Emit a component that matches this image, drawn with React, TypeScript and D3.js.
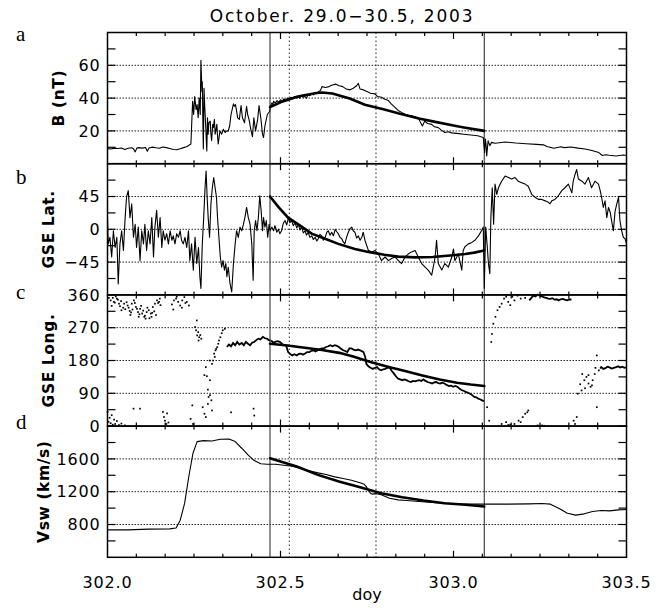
import React from "react";
import * as d3 from "d3";

// ---------------------- data
const title = "October. 29.0\u221230.5, 2003";
const dayTicks = [302.0, 302.5, 303.0, 303.5];
const cloudBounds = [302.4697, 303.089];
const dottedMarks = [302.5255, 302.776];

const bTicks = [20, 40, 60];
const latTicks = [-45, 0, 45];
const lonTicks = [0, 90, 180, 270, 360];
const vswTicks = [800, 1200, 1600];

// B (nT)
const bField: [number, number][] = [
  [302.0, 9.2], [302.01, 9.0], [302.02, 9.5], [302.03, 9.3], [302.04, 9.6], [302.05, 8.6], [302.06, 9.4],
  [302.07, 9.7], [302.075, 9.1], [302.08, 7.2], [302.085, 9.6], [302.09, 9.8], [302.1, 9.5], [302.11, 9.9],
  [302.115, 7.6], [302.12, 9.6], [302.13, 10.1], [302.14, 9.7], [302.15, 9.4], [302.16, 10.2], [302.17, 9.8],
  [302.18, 9.3], [302.19, 8.7], [302.2, 8.5], [302.21, 9.1], [302.22, 9.8], [302.23, 10.5], [302.241, 12.0],
  [302.246, 38], [302.249, 30], [302.252, 41], [302.256, 33], [302.259, 36], [302.262, 28], [302.265, 40],
  [302.268, 30], [302.27, 63], [302.273, 44], [302.274, 50], [302.276, 20], [302.277, 9], [302.279, 46],
  [302.281, 35], [302.284, 22], [302.287, 7.8], [302.289, 28], [302.291, 18], [302.293, 25], [302.297, 26],
  [302.299, 18], [302.301, 14], [302.304, 24], [302.306, 22], [302.309, 27], [302.311, 18], [302.313, 20],
  [302.316, 24], [302.318, 17], [302.32, 12], [302.325, 20], [302.33, 18], [302.335, 21], [302.34, 19],
  [302.345, 20], [302.349, 20], [302.353, 23], [302.357, 30], [302.364, 36.5], [302.367, 35], [302.37, 36],
  [302.374, 31], [302.376, 28], [302.381, 27], [302.386, 35.5], [302.39, 28], [302.396, 25], [302.399, 30],
  [302.402, 35], [302.405, 30], [302.409, 27], [302.415, 20], [302.419, 16.5], [302.423, 28], [302.428, 20],
  [302.434, 27], [302.438, 35.4], [302.443, 28], [302.448, 18], [302.451, 16], [302.455, 23], [302.462, 30],
  [302.469, 32], [302.471, 35], [302.475, 37], [302.478, 36], [302.48, 38], [302.485, 37], [302.49, 38.5],
  [302.495, 37.5], [302.5, 39], [302.505, 38], [302.51, 39.5], [302.515, 38.5], [302.52, 40], [302.525, 39],
  [302.53, 40.5], [302.535, 39.5], [302.54, 41], [302.545, 40], [302.55, 41], [302.555, 40], [302.56, 41.5],
  [302.565, 40.5], [302.57, 41], [302.575, 40], [302.58, 42], [302.585, 41.5], [302.59, 42.5], [302.595, 42],
  [302.6, 43.5], [302.605, 43], [302.61, 44], [302.615, 44.5], [302.62, 47], [302.63, 46.5], [302.64, 47],
  [302.65, 48], [302.66, 48.5], [302.67, 47.5], [302.68, 47], [302.69, 45.5], [302.7, 45], [302.71, 46],
  [302.72, 47.5], [302.725, 49], [302.73, 45.5], [302.74, 45], [302.75, 44], [302.76, 43], [302.773, 42.6],
  [302.78, 41], [302.792, 40.5], [302.8, 39.5], [302.812, 38.5], [302.82, 36.5], [302.831, 34.4],
  [302.84, 32.5], [302.85, 31.3], [302.86, 30.2], [302.87, 29.5], [302.879, 29.2], [302.89, 28.4],
  [302.898, 27.8], [302.905, 25], [302.91, 23], [302.917, 26], [302.925, 24.5], [302.937, 24], [302.945, 22.5],
  [302.956, 22], [302.965, 20.5], [302.975, 19], [302.985, 19.5], [302.995, 18.8], [303.01, 18.5],
  [303.03, 18.0], [303.05, 17.5], [303.07, 17.0], [303.086, 16], [303.09, 6.7], [303.092, 15], [303.094, 12],
  [303.096, 4.7], [303.1, 14], [303.105, 11], [303.11, 13], [303.12, 12.5], [303.15, 13.2], [303.18, 12.6],
  [303.21, 12.2], [303.24, 11.8], [303.26, 11.5], [303.27, 10.5], [303.29, 9.4], [303.31, 10.3],
  [303.32, 9.8], [303.34, 10.2], [303.36, 9.5], [303.38, 9.0], [303.4, 8.0], [303.42, 6.8], [303.43, 5.0],
  [303.44, 5.5], [303.45, 5.2], [303.47, 4.7], [303.49, 5.3], [303.5, 5.0],
];
const bFit: [number, number][] = [
  [302.4697, 34.5], [302.5, 37.5], [302.55, 41], [302.6, 43], [302.62, 43.4], [302.65, 42.8], [302.7, 39.8],
  [302.744, 36], [302.8, 33], [302.84, 30.7], [302.9, 27.6], [302.94, 25.8], [303.0, 23.3], [303.03, 22.1],
  [303.089, 20.0],
];

// GSE latitude (deg)
const latData: [number, number][] = [
  [302.0, 16], [302.002, -20], [302.007, -11], [302.012, -38], [302.017, -2], [302.022, -25], [302.027, -11],
  [302.031, -75], [302.036, -20], [302.041, -2], [302.046, -29], [302.051, 16], [302.055, 44], [302.06, 53],
  [302.065, 16], [302.07, 35], [302.075, -11], [302.08, 7], [302.084, -25], [302.089, 3], [302.094, -43],
  [302.099, -2], [302.104, -20], [302.108, 7], [302.113, -29], [302.118, -2], [302.123, -20], [302.128, 16],
  [302.133, -38], [302.137, 3], [302.142, 26], [302.147, -11], [302.152, 16], [302.157, -25], [302.161, -2],
  [302.166, -15], [302.171, -6], [302.176, -20], [302.181, -2], [302.186, -15], [302.19, -9], [302.195, -20],
  [302.2, -6], [302.205, -11], [302.21, -2], [302.214, -15], [302.219, -20], [302.224, -11], [302.229, -25],
  [302.234, -2], [302.238, -43], [302.243, -20], [302.248, -56], [302.253, -11], [302.258, -47],
  [302.263, -25], [302.267, -65], [302.27, -81], [302.274, -20], [302.278, 16], [302.282, 57], [302.285, 80],
  [302.288, 44], [302.291, 16], [302.295, -11], [302.299, 35], [302.303, 57], [302.307, 71], [302.311, 57],
  [302.315, 44], [302.318, 16], [302.322, -11], [302.326, -38], [302.33, -52], [302.334, -43], [302.338, -56],
  [302.342, -47], [302.345, -65], [302.349, -52], [302.354, -74], [302.359, -86], [302.364, -47],
  [302.369, -20], [302.373, -2], [302.378, -11], [302.383, 3], [302.388, -2], [302.393, 7], [302.397, 16],
  [302.402, 30], [302.407, 16], [302.412, 7], [302.417, -20], [302.421, -70], [302.424, -2], [302.428, 12],
  [302.432, -2], [302.436, 16], [302.44, 46], [302.444, 26], [302.448, -2], [302.451, 16], [302.455, 3],
  [302.459, 12], [302.463, -11], [302.467, 7], [302.47, -2], [302.475, 3], [302.48, -2], [302.484, 5],
  [302.489, -4], [302.494, 0], [302.498, -6], [302.503, -2], [302.508, 8], [302.513, 12], [302.518, 6],
  [302.523, 16], [302.527, 9], [302.532, 12], [302.537, 5], [302.542, 9], [302.547, 2], [302.552, 7],
  [302.556, -1], [302.561, 3], [302.566, -5], [302.571, -2], [302.575, -8], [302.58, -4], [302.585, -11],
  [302.59, -9], [302.595, -14], [302.6, -11], [302.605, -16], [302.609, -13], [302.614, -7], [302.619, -9],
  [302.624, -15], [302.629, -11], [302.634, -4], [302.638, -2], [302.643, -8], [302.648, -4], [302.653, -9],
  [302.658, 0], [302.662, -3], [302.667, -6], [302.672, -11], [302.677, -13], [302.681, -17], [302.686, -20],
  [302.691, -11], [302.696, -4], [302.701, 1], [302.706, 3], [302.71, -2], [302.715, -4], [302.72, -12],
  [302.725, -9], [302.73, -15], [302.735, -11], [302.739, -4], [302.744, -15], [302.754, -29],
  [302.764, -31], [302.773, -29], [302.783, -34], [302.792, -43], [302.802, -38], [302.812, -43],
  [302.821, -40], [302.831, -38], [302.841, -43], [302.85, -47], [302.86, -38], [302.869, -34],
  [302.879, -31], [302.889, -29], [302.898, -38], [302.908, -47], [302.918, -52], [302.927, -56],
  [302.937, -63], [302.947, -38], [302.951, -15], [302.956, -47], [302.966, -56], [302.975, -47],
  [302.985, -52], [302.995, -38], [303.0, -27], [303.004, -43], [303.014, -34], [303.024, -56],
  [303.028, -29], [303.033, -24], [303.043, -20], [303.053, -18], [303.062, -15], [303.072, -9],
  [303.081, -2], [303.086, 3], [303.089, -81], [303.093, 3], [303.097, -20], [303.101, -47], [303.105, -61],
  [303.108, 16], [303.112, 57], [303.116, 7], [303.12, 62], [303.125, 48], [303.13, 57], [303.139, 66],
  [303.149, 73], [303.159, 71], [303.168, 69], [303.178, 71], [303.187, 66], [303.197, 64], [303.207, 62],
  [303.216, 59], [303.226, 48], [303.236, 44], [303.245, 41], [303.255, 41], [303.265, 39], [303.274, 37],
  [303.279, 35], [303.284, 39], [303.293, 41], [303.303, 46], [303.313, 53], [303.322, 57], [303.332, 62],
  [303.342, 50], [303.346, 66], [303.351, 75], [303.356, 82], [303.361, 69], [303.371, 66], [303.38, 62],
  [303.39, 71], [303.399, 57], [303.409, 66], [303.419, 62], [303.424, 53], [303.428, 44], [303.433, 30],
  [303.438, 39], [303.443, 16], [303.448, 30], [303.453, 23], [303.457, 12], [303.462, -2], [303.467, 25],
  [303.472, 35], [303.477, 44], [303.481, 12], [303.486, -2], [303.491, -11], [303.496, -13], [303.5, -20],
];
const latFit: [number, number][] = [
  [302.4697, 45], [302.495, 30], [302.522, 16], [302.56, 4], [302.59, -6], [302.629, -13], [302.667, -20],
  [302.715, -27], [302.754, -31], [302.8, -35], [302.84, -37.5], [302.89, -38.5], [302.94, -38],
  [302.99, -36], [303.034, -34], [303.06, -32], [303.089, -29],
];

// GSE longitude (deg): dense runs drawn as traces, sparse points as dots
const lonSheath: [number, number][] = [
  [302.345, 217], [302.351, 224], [302.357, 219], [302.363, 228], [302.369, 222], [302.375, 231],
  [302.381, 224], [302.388, 228], [302.394, 222], [302.4, 231], [302.406, 226], [302.412, 222],
  [302.418, 229], [302.424, 231], [302.43, 236], [302.436, 240], [302.442, 238], [302.449, 245],
  [302.455, 241], [302.461, 240], [302.466, 236], [302.471, 235],
];
const lonCloud: [number, number][] = [
  [302.473, 235], [302.479, 229], [302.485, 231], [302.491, 233], [302.498, 231], [302.504, 226],
  [302.51, 222], [302.516, 222], [302.522, 203], [302.528, 198], [302.534, 194], [302.54, 197],
  [302.547, 194], [302.553, 198], [302.559, 199], [302.565, 196], [302.571, 199], [302.577, 203],
  [302.583, 203], [302.589, 206], [302.595, 208], [302.601, 205], [302.608, 208], [302.614, 211],
  [302.62, 213], [302.626, 214], [302.632, 217], [302.638, 219], [302.644, 222], [302.65, 219],
  [302.657, 222], [302.663, 220], [302.669, 217], [302.675, 212], [302.681, 208], [302.687, 206],
  [302.693, 203], [302.699, 213], [302.705, 213], [302.711, 210], [302.718, 208], [302.724, 210],
  [302.73, 208], [302.736, 205], [302.74, 203], [302.745, 189], [302.748, 171], [302.754, 164],
  [302.76, 160], [302.767, 157], [302.773, 160], [302.779, 162], [302.785, 156], [302.791, 153],
  [302.797, 156], [302.803, 157], [302.809, 160], [302.815, 162], [302.821, 152], [302.828, 144],
  [302.834, 136], [302.84, 130], [302.846, 128], [302.852, 126], [302.858, 128], [302.864, 126],
  [302.87, 123], [302.877, 121], [302.883, 124], [302.889, 123], [302.895, 125], [302.901, 126],
  [302.907, 124], [302.913, 128], [302.919, 124], [302.925, 121], [302.932, 119], [302.938, 117],
  [302.944, 120], [302.95, 121], [302.956, 118], [302.962, 117], [302.968, 119], [302.974, 117],
  [302.98, 113], [302.987, 110], [302.993, 111], [302.999, 108], [303.005, 110], [303.011, 108],
  [303.017, 103], [303.023, 99], [303.029, 97], [303.035, 94], [303.041, 92], [303.048, 89],
  [303.054, 85], [303.06, 80], [303.066, 79], [303.072, 75], [303.078, 73], [303.084, 70], [303.088, 68],
];
const lonTop: [number, number][] = [
  [303.219, 345], [303.225, 352], [303.231, 358], [303.237, 356], [303.243, 361], [303.249, 358],
  [303.256, 356], [303.262, 353], [303.268, 352], [303.274, 350], [303.28, 349], [303.286, 351],
  [303.292, 347], [303.298, 348], [303.304, 345], [303.31, 348], [303.317, 349], [303.323, 346],
  [303.329, 345], [303.335, 348], [303.341, 347],
];
const lonTail: [number, number][] = [
  [303.424, 158], [303.427, 162], [303.433, 157], [303.439, 159], [303.445, 163], [303.451, 161],
  [303.457, 158], [303.463, 160], [303.47, 162], [303.476, 164], [303.482, 161], [303.488, 163],
  [303.494, 160], [303.498, 161],
];
const lonDots: [number, number][] = [
  [302.009, 345], [302.012, 330], [302.015, 352], [302.021, 339], [302.024, 356], [302.027, 350],
  [302.033, 336], [302.039, 343], [302.04, 318], [302.045, 325], [302.051, 321], [302.055, 340],
  [302.058, 331], [302.064, 316], [302.066, 305], [302.07, 336], [302.072, 320], [302.076, 345],
  [302.082, 327], [302.088, 313], [302.09, 300], [302.094, 322], [302.097, 330], [302.1, 309],
  [302.106, 300], [302.11, 295], [302.113, 313], [302.115, 325], [302.119, 318], [302.125, 309],
  [302.127, 300], [302.131, 327], [302.135, 315], [302.137, 336], [302.14, 305], [302.143, 345],
  [302.149, 341], [302.153, 332], [302.004, 352], [302.018, 341], [302.03, 347], [302.036, 329],
  [302.048, 336], [302.061, 325], [302.068, 312], [302.079, 338], [302.085, 322], [302.092, 307],
  [302.103, 317], [302.108, 303], [302.121, 296], [302.129, 311], [302.146, 338], [302.151, 350],
  [302.0, 39], [302.003, 12], [302.006, 23], [302.009, 8], [302.012, 30], [302.015, 4], [302.019, 18],
  [302.022, 6], [302.027, 14], [302.033, 3], [302.04, 7], [302.05, 2], [302.075, 48], [302.094, 48],
  [302.16, 39], [302.163, 25], [302.166, 15], [302.17, 6], [302.172, 35], [302.176, 10],
  [302.186, 334], [302.19, 320], [302.192, 345], [302.198, 350], [302.2, 355], [302.204, 341],
  [302.21, 331], [302.215, 325], [302.216, 345], [302.222, 354], [302.225, 338], [302.229, 341],
  [302.235, 331],
  [302.24, 20], [302.245, 57], [302.247, 6], [302.253, 272], [302.256, 263], [302.259, 249],
  [302.263, 235], [302.265, 244], [302.271, 240], [302.275, 52], [302.28, 34], [302.284, 25],
  [302.29, 61], [302.292, 80], [302.296, 85], [302.3, 71], [302.302, 43], [302.284, 162],
  [302.287, 137], [302.296, 126], [302.29, 100], [302.28, 140], [302.302, 171], [302.295, 180],
  [302.308, 199], [302.31, 190], [302.312, 208], [302.317, 217], [302.32, 226], [302.326, 244],
  [302.333, 263], [302.339, 267], [302.357, 38], [302.422, 48], [302.424, 29], [302.258, 290],
  [302.262, 258], [302.268, 250], [302.305, 180], [302.314, 212], [302.322, 235], [302.33, 255],
  [303.097, 52], [303.103, 15], [303.109, 231], [303.111, 253], [303.115, 281], [303.121, 300],
  [303.127, 318], [303.133, 327], [303.139, 336], [303.146, 350], [303.152, 355], [303.158, 341],
  [303.164, 332], [303.17, 355], [303.176, 345], [303.185, 358], [303.194, 350], [303.207, 352],
  [303.139, 6], [303.152, 11], [303.158, 3], [303.164, 4], [303.176, 6], [303.188, 15], [303.194, 11],
  [303.2, 25], [303.207, 34], [303.213, 38], [303.216, 43], [303.243, 2], [303.249, 1], [303.256, 2],
  [303.262, 1],
  [303.347, 15], [303.351, 6], [303.356, 25], [303.359, 89], [303.366, 115], [303.37, 98],
  [303.372, 143], [303.378, 126], [303.38, 104], [303.384, 135], [303.39, 117], [303.39, 140],
  [303.396, 108], [303.4, 112], [303.402, 126], [303.408, 143], [303.41, 160], [303.414, 52],
  [303.414, 194], [303.42, 153],
];
const lonFit: [number, number][] = [
  [302.4697, 226], [302.52, 221], [302.57, 215], [302.62, 209], [302.67, 201], [302.71, 191],
  [302.76, 176], [302.81, 163], [302.86, 151], [302.91, 139], [302.96, 128], [303.01, 119],
  [303.05, 114], [303.089, 110],
];

// Vsw (km/s)
const vswData: [number, number][] = [
  [302.0, 735], [302.058, 735], [302.119, 743], [302.18, 747], [302.198, 757], [302.21, 849],
  [302.223, 1060], [302.235, 1385], [302.247, 1669], [302.259, 1811], [302.278, 1823], [302.302, 1819],
  [302.326, 1839], [302.351, 1843], [302.369, 1811], [302.388, 1730], [302.406, 1649], [302.424, 1580],
  [302.443, 1540], [302.461, 1535], [302.485, 1535], [302.51, 1523], [302.534, 1511], [302.559, 1483],
  [302.583, 1454], [302.608, 1430], [302.632, 1409], [302.657, 1381], [302.681, 1361], [302.705, 1340],
  [302.73, 1308], [302.742, 1290], [302.748, 1262], [302.754, 1215], [302.76, 1182], [302.766, 1170],
  [302.772, 1176], [302.779, 1174], [302.791, 1162], [302.815, 1121], [302.84, 1100], [302.864, 1092],
  [302.901, 1080], [302.938, 1068], [302.974, 1060], [303.011, 1052], [303.048, 1048], [303.091, 1048],
  [303.158, 1048], [303.219, 1052], [303.256, 1056], [303.28, 1048], [303.304, 999], [303.329, 938],
  [303.353, 914], [303.378, 930], [303.402, 958], [303.427, 970], [303.451, 966], [303.476, 978],
  [303.5, 983],
];
const vswFit: [number, number][] = [
  [302.4697, 1608], [302.547, 1507], [302.608, 1405], [302.669, 1324], [302.73, 1255], [302.791, 1182],
  [302.852, 1133], [302.913, 1093], [302.974, 1060], [303.035, 1040], [303.089, 1019],
];

// ---------------------- layout
const L = 107.5;
const R = 626.5;
const TOP = 32.5;
const PH = 131.2;

type Panel = {
  letter: string;
  letterY: number;
  label: string;
  labelX: number;
  domain: [number, number];
  labels: number[];
  grid: number[];
  minor: number[];
};

const panels: Panel[] = [
  { letter: "a", letterY: 41, label: "B (nT)", labelX: 64, domain: [0, 80], labels: bTicks, grid: bTicks, minor: [10, 30, 50, 70] },
  { letter: "b", letterY: 184, label: "GSE Lat.", labelX: 54, domain: [-90, 90], labels: latTicks, grid: latTicks, minor: [-67.5, -22.5, 22.5, 67.5] },
  { letter: "c", letterY: 299, label: "GSE Long.", labelX: 54, domain: [0, 360], labels: lonTicks, grid: [90, 180, 270], minor: [45, 135, 225, 315] },
  { letter: "d", letterY: 429, label: "Vsw (km/s)", labelX: 49, domain: [400, 2000], labels: vswTicks, grid: vswTicks, minor: [600, 1000, 1400, 1800] },
];

export default function App() {
  const x = d3.scaleLinear().domain([302, 303.5]).range([L, R]);
  const minorDays = d3.range(1, 18).map(k => 302 + k / 12);
  const majorDays = dayTicks.slice(1, -1);
  const bottom = TOP + PH * 4;

  const ys = panels.map((p, i) =>
    d3.scaleLinear().domain(p.domain).range([TOP + PH * (i + 1), TOP + PH * i])
  );
  const lineOf = (y: d3.ScaleLinear<number, number>) =>
    d3.line<[number, number]>().x(d => x(d[0])).y(d => y(d[1]));

  const thin = { fill: "none", stroke: "#000", strokeWidth: 1.1, strokeLinejoin: "round" as const };
  const thick = { fill: "none", stroke: "#000", strokeWidth: 2.6, strokeLinecap: "round" as const };
  const trace = { fill: "none", stroke: "#000", strokeWidth: 1.8 };

  return (
    <svg
      width={664}
      height={608}
      style={{ position: "absolute", left: 0, top: 0, background: "#fff" }}
      fontFamily="DejaVu Sans, sans-serif"
    >
      <rect width={664} height={608} fill="#fff" />
      <text x={342} y={22} textAnchor="middle" fontSize={17} letterSpacing={1.8}>
        {title}
      </text>

      {panels.map((p, i) => {
        const y = ys[i];
        const top = TOP + PH * i;
        const bot = top + PH;
        return (
          <g key={p.letter}>
            {/* grid */}
            {p.grid.map(v => (
              <line key={"g" + v} x1={L} x2={R} y1={y(v)} y2={y(v)} stroke="#222" strokeWidth={1} strokeDasharray="1.5,1.5" />
            ))}
            {/* y ticks both sides */}
            {[...p.labels, ...p.minor].map(v => (
              <g key={"t" + v}>
                <line x1={L} x2={L + 8} y1={y(v)} y2={y(v)} stroke="#000" strokeWidth={1.2} />
                <line x1={R - 8} x2={R} y1={y(v)} y2={y(v)} stroke="#000" strokeWidth={1.2} />
              </g>
            ))}
            {/* x ticks top and bottom */}
            {minorDays.map(d => {
              const len = majorDays.some(m => Math.abs(m - d) < 1e-6) ? 6.5 : 3.5;
              return (
                <g key={"x" + d}>
                  <line x1={x(d)} x2={x(d)} y1={top} y2={top + len} stroke="#000" strokeWidth={1.2} />
                  <line x1={x(d)} x2={x(d)} y1={bot - len} y2={bot} stroke="#000" strokeWidth={1.2} />
                </g>
              );
            })}
            {p.labels.map(v => (
              <text key={"l" + v} x={L - 7} y={y(v)} dy="0.36em" textAnchor="end" fontSize={16} letterSpacing={0.8}>
                {v < 0 ? "\u2212" + Math.abs(v) : v}
              </text>
            ))}
            <text
              transform={`translate(${p.labelX},${(top + bot) / 2}) rotate(-90)`}
              textAnchor="middle"
              fontSize={15.5}
              fontWeight="bold"
              letterSpacing={0.6}
            >
              {p.label}
            </text>
            <text x={16} y={p.letterY} fontFamily="Liberation Serif, serif" fontSize={21}>
              {p.letter}
            </text>
          </g>
        );
      })}

      {/* event boundaries */}
      {cloudBounds.map(d => (
        <line key={"b" + d} x1={x(d)} x2={x(d)} y1={TOP} y2={bottom} stroke="#444" strokeWidth={1.2} />
      ))}
      {dottedMarks.map(d => (
        <line key={"m" + d} x1={x(d)} x2={x(d)} y1={TOP} y2={bottom} stroke="#222" strokeWidth={1} strokeDasharray="1.5,2.5" />
      ))}

      {/* panel a */}
      <path d={lineOf(ys[0])(bField) ?? ""} {...thin} />
      <path d={lineOf(ys[0])(bFit) ?? ""} {...thick} />
      {/* panel b */}
      <path d={lineOf(ys[1])(latData) ?? ""} {...thin} />
      <path d={lineOf(ys[1])(latFit) ?? ""} {...thick} />
      {/* panel c */}
      {[lonSheath, lonCloud, lonTop, lonTail].map((s, k) => (
        <path key={"s" + k} d={lineOf(ys[2])(s) ?? ""} {...trace} />
      ))}
      {lonDots.map((d, k) => (
        <rect key={"d" + k} x={x(d[0]) - 0.8} y={ys[2](d[1]) - 0.8} width={1.7} height={1.7} fill="#000" />
      ))}
      <path d={lineOf(ys[2])(lonFit) ?? ""} {...thick} />
      {/* panel d */}
      <path d={lineOf(ys[3])(vswData) ?? ""} {...thin} />
      <path d={lineOf(ys[3])(vswFit) ?? ""} {...thick} />

      {/* panel frames */}
      {panels.map((p, i) => (
        <rect key={"f" + p.letter} x={L} y={TOP + PH * i} width={R - L} height={PH} fill="none" stroke="#000" strokeWidth={1.5} />
      ))}

      {dayTicks.map(d => (
        <text key={"xl" + d} x={x(d)} y={588} textAnchor="middle" fontSize={16} letterSpacing={0.8}>
          {d3.format(".1f")(d)}
        </text>
      ))}
      <text x={(L + R) / 2} y={600} textAnchor="middle" fontSize={16}>
        doy
      </text>
    </svg>
  );
}
